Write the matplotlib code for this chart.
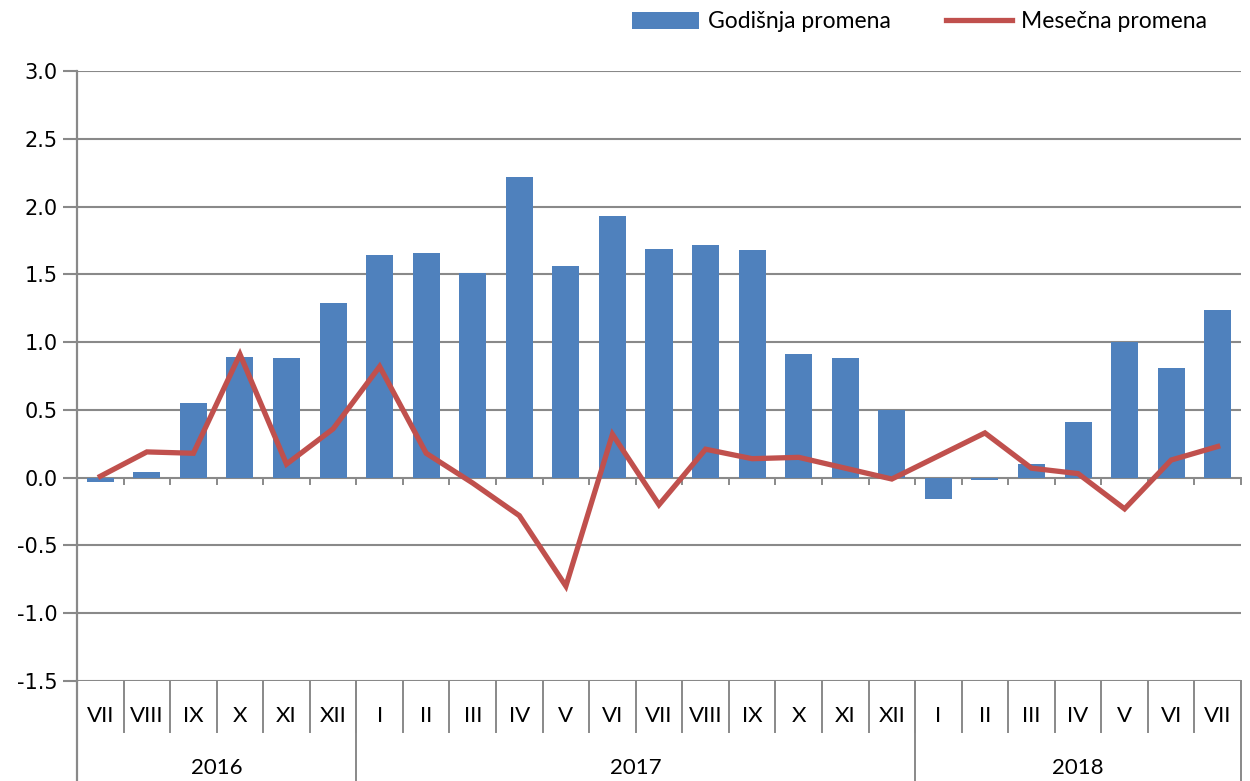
import numpy as np
import matplotlib
matplotlib.use("Agg")
import matplotlib.pyplot as plt
from matplotlib.patches import Patch
from matplotlib.lines import Line2D

# --- data ---
months = ["VII", "VIII", "IX", "X", "XI", "XII",
          "I", "II", "III", "IV", "V", "VI", "VII", "VIII", "IX", "X", "XI", "XII",
          "I", "II", "III", "IV", "V", "VI", "VII"]
years = ["2016", "2017", "2018"]
year_counts = [6, 12, 7]
godisnja = [-0.03, 0.04, 0.55, 0.89, 0.88, 1.29,
            1.64, 1.66, 1.51, 2.22, 1.56, 1.93, 1.69, 1.72, 1.68, 0.91, 0.88, 0.50,
            -0.16, -0.015, 0.10, 0.41, 1.00, 0.81, 1.24]
mesecna = [0.01, 0.19, 0.18, 0.91, 0.10, 0.36,
           0.82, 0.18, -0.04, -0.28, -0.80, 0.32, -0.20, 0.21, 0.14, 0.15, 0.07, -0.01,
           0.16, 0.33, 0.07, 0.03, -0.23, 0.13, 0.23]

BAR_C = "#4F81BD"
LINE_C = "#C0504D"
GRID_C = "#898989"
FONT = "Lato"

fig = plt.figure(figsize=(12.5, 7.81), dpi=100)
W, H = 1250, 781
L, R, T, B = 77, 1241, 71, 681
ax = fig.add_axes([L / W, 1 - B / H, (R - L) / W, (B - T) / H])

n = len(months)
x = np.arange(n)
ax.bar(x, godisnja, width=0.58, color=BAR_C, zorder=2)
ax.plot(x, mesecna, color=LINE_C, lw=3.8, solid_joinstyle="miter", zorder=3)

ax.set_xlim(-0.5, n - 0.5)
ax.set_ylim(-1.5, 3.0)
yt = np.arange(-1.5, 3.01, 0.5)
ax.set_yticks(yt)
ax.set_yticklabels([f"{v:.1f}" for v in yt], fontsize=15, family="DejaVu Sans")
ax.tick_params(axis="y", length=10, width=1.5, color=GRID_C, pad=4)
ax.set_xticks([])
for v in yt:
    ax.axhline(v, color=GRID_C, lw=1.5, zorder=1)

for s in ["top", "right", "bottom"]:
    ax.spines[s].set_visible(False)
ax.spines["left"].set_color(GRID_C)
ax.spines["left"].set_linewidth(1.6)

# small ticks on the zero line between categories
for b in np.arange(-0.5, n, 1.0):
    ax.plot([b, b], [0, -0.045], color=GRID_C, lw=1.4, clip_on=False, zorder=1)

# multi-level category labels below the plot
px = lambda yp: 1 - yp / H
def xfig(xd):
    return (L + (xd + 0.5) / n * (R - L)) / W

for i, m in enumerate(months):
    fig.text(xfig(i), px(716), m, ha="center", va="center", fontsize=16, family=FONT)
for b in range(1, n):
    fig.add_artist(Line2D([xfig(b - 0.5)] * 2, [px(681), px(732)], color=GRID_C, lw=1.4))

start = 0
for yr, c in zip(years, year_counts):
    fig.text(xfig(start + c / 2 - 0.5), px(768), yr, ha="center", va="center", fontsize=16, family=FONT)
    start += c
start = 0
for c in year_counts:
    start += c
    fig.add_artist(Line2D([xfig(start - 0.5)] * 2, [px(681), 0], color=GRID_C, lw=1.4))
fig.add_artist(Line2D([L / W] * 2, [px(681), 0], color=GRID_C, lw=1.6))

handles = [Patch(facecolor=BAR_C, label="Godišnja promena"),
           Line2D([0], [0], color=LINE_C, lw=3.8, label="Mesečna promena")]
fig.legend(handles=handles, loc="center right", bbox_to_anchor=(1228 / W, px(22)),
           ncol=2, frameon=False, prop={"family": FONT, "size": 16.5},
           handlelength=2.9, handleheight=0.8, columnspacing=2.4, handletextpad=0.4)

fig.savefig("out.png", dpi=100)
